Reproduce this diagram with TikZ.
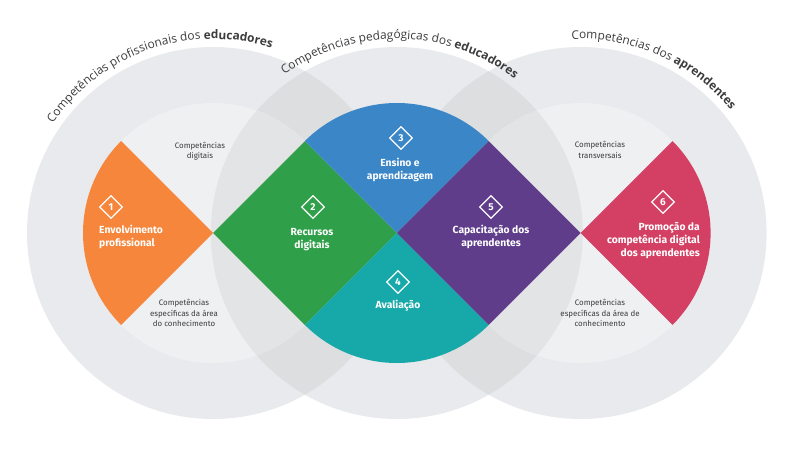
\documentclass[tikz,border=0pt]{standalone}
\usepackage{fontspec}
\setmainfont{Fira Sans}
\newfontfamily\arcfont{Open Sans}
\usetikzlibrary{shapes.geometric,decorations.text}
\definecolor{ringc}{HTML}{E9EAED}
\definecolor{lensc}{HTML}{DDDEE0}
\definecolor{innerc}{HTML}{EFF0F2}
\definecolor{midc}{HTML}{E3E4E6}
\definecolor{orangec}{HTML}{F5863C}
\definecolor{greenc}{HTML}{2FA049}
\definecolor{bluec}{HTML}{3B86C6}
\definecolor{tealc}{HTML}{17A9A9}
\definecolor{purplec}{HTML}{5F3D8B}
\definecolor{redc}{HTML}{D44064}
\definecolor{txtc}{HTML}{3C3C3C}
\tikzset{
  icon/.style={diamond, draw=white, line width=1.2pt, minimum width=23pt, minimum height=23pt, inner sep=0pt, text=white, font=\fontsize{10}{11}\selectfont\bfseries},
  wlabel/.style={text=white, font=\fontsize{10.3}{13}\selectfont\bfseries, inner sep=0pt},
  glabel/.style={text=txtc, font=\fontsize{7.9}{10.5}\selectfont, align=center, inner sep=0pt},
  arctext/.style={decorate, decoration={text along path, text align=center, text={#1}}}
}
\newcommand{\arcreg}{\arcfont\fontsize{11.9}{13}\selectfont\color{txtc}}
\newcommand{\arcbold}{\arcfont\bfseries\fontsize{11.9}{13}\selectfont\color{txtc}}
\begin{document}
\begin{tikzpicture}[x=1pt,y=1pt]
\useasboundingbox (0,0) rectangle (794,450);
\coordinate (L) at (213,217);
\coordinate (M) at (396.8,217);
\coordinate (R) at (580.6,217);
% outer rings
\fill[ringc] (L) circle[radius=186];
\fill[ringc] (M) circle[radius=186];
\fill[ringc] (R) circle[radius=186];
\begin{scope}\clip (L) circle[radius=186]; \fill[lensc] (M) circle[radius=186]; \end{scope}
\begin{scope}\clip (R) circle[radius=186]; \fill[lensc] (M) circle[radius=186]; \end{scope}
% inner circles
\fill[innerc] (L) circle[radius=130];
\fill[innerc] (R) circle[radius=130];
\begin{scope}\clip (L) circle[radius=130]; \fill[midc] (M) circle[radius=186]; \end{scope}
\begin{scope}\clip (R) circle[radius=130]; \fill[midc] (M) circle[radius=186]; \end{scope}
% coloured shapes
\fill[orangec] (L) -- ++(135:130) arc[start angle=135,end angle=225,radius=130] -- cycle;
\fill[greenc] (L) -- ++(45:130) -- (M) -- ++(225:130) -- cycle;
\fill[bluec] (M) -- ++(45:130) arc[start angle=45,end angle=135,radius=130] -- cycle;
\fill[tealc] (M) -- ++(225:130) arc[start angle=225,end angle=315,radius=130] -- cycle;
\fill[purplec] (M) -- ++(45:130) -- (R) -- ++(225:130) -- cycle;
\fill[redc] (R) -- ++(-45:130) arc[start angle=-45,end angle=45,radius=130] -- cycle;
% curved titles
\path[shift={(L)}, arctext={|\arcreg|Competências profissionais dos |\arcbold|educadores}] (169:194) arc[start angle=169,end angle=49,radius=194];
\path[shift={(M)}, arctext={|\arcreg|Competências pedagógicas dos |\arcbold|educadores}] (149:194) arc[start angle=149,end angle=29,radius=194];
\path[shift={(R)}, arctext={|\arcreg|Competências dos |\arcbold|aprendentes}] (126:194) arc[start angle=126,end angle=6,radius=194];
% icons
\node[icon] (i1) at (111,243) {1};
\node[icon] (i2) at (313,243) {2};
\node[icon] (i3) at (401,312) {3};
\node[icon] (i4) at (398,168) {4};
\node[icon] (i5) at (491,243) {5};
\node[icon] (i6) at (663,248) {6};
% white labels
\node[wlabel, align=left, anchor=west] (l1) at (99,213) {Envolvimento\\profissional};
\node[wlabel, align=center] (l2) at (312,210) {Recursos\\digitais};
\node[wlabel, align=center] (l3) at (400,280) {Ensino e\\aprendizagem};
\node[wlabel, align=center] (l4) at (398,144) {Avaliação};
\node[wlabel, align=center] (l5) at (491,213) {Capacitação dos\\aprendentes};
\node[wlabel, align=right, anchor=east] (l6) at (700,209) {Promoção da\\competência digital\\dos aprendentes};
% grey labels
\node[glabel] (g1) at (200,299) {Competências\\digitais};
\node[glabel] (g2) at (184,137) {Competências\\específicas da área\\do conhecimento};
\node[glabel] (g3) at (600,300) {Competências\\transversais};
\node[glabel] (g4) at (600,137) {Competências\\específicas da área de\\conhecimento};
\end{tikzpicture}
\end{document}
